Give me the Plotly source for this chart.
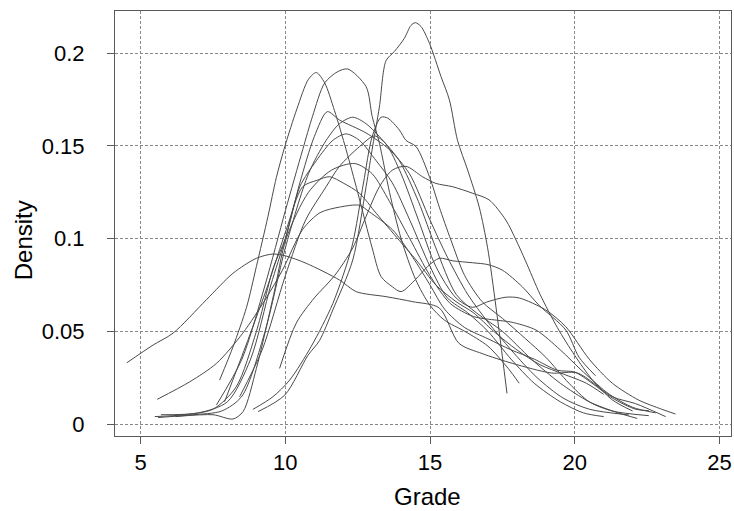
import plotly.graph_objects as go

# Density curves (Grade vs Density)
curve_names = ["L", "K", "D", "E", "G", "I", "A", "B", "J", "H", "F", "C", "I2"]

L_x = [4.52, 5.43, 6.12, 7.27, 8.19, 9.0, 9.57, 10.03, 10.72, 11.87, 12.45, 13.48, 14.4, 15.32, 16.0, 16.8, 17.85, 19.2, 20.1, 21.3, 22.1, 23.14]
L_y = [0.033, 0.0426, 0.049, 0.067, 0.0813, 0.0894, 0.0917, 0.0906, 0.0867, 0.0777, 0.0714, 0.0687, 0.066, 0.0626, 0.0435, 0.038, 0.0327, 0.0275, 0.0275, 0.0147, 0.011, 0.004]

K_x = [5.57, 6.7, 7.62, 8.53, 9.34, 9.9, 10.6, 11.2, 11.87, 12.56, 12.9, 13.71, 14.4, 15.0, 15.5, 16.2, 17.0, 17.8, 18.6, 19.4, 20.0, 20.6, 21.3, 22.1, 22.56]
K_y = [0.0133, 0.0228, 0.0327, 0.049, 0.068, 0.083, 0.105, 0.114, 0.117, 0.118, 0.1145, 0.1047, 0.09, 0.075, 0.062, 0.052, 0.046, 0.04, 0.035, 0.029, 0.028, 0.022, 0.014, 0.008, 0.0072]

D_x = [5.49, 6.5, 7.5, 8.3, 9.0, 9.6, 10.0, 10.5, 11.0, 11.45, 11.87, 12.79, 13.6, 14.29, 15.0, 15.6, 16.3, 17.0, 17.8, 18.7, 19.6, 20.5, 21.87]
D_y = [0.004, 0.005, 0.008, 0.02, 0.05, 0.085, 0.1, 0.13, 0.155, 0.1685, 0.164, 0.157, 0.148, 0.135, 0.11, 0.09, 0.07, 0.055, 0.04, 0.025, 0.014, 0.008, 0.0049]

E_x = [5.6, 6.8, 7.8, 8.5, 9.3, 10.0, 10.8, 11.41, 11.87, 12.33, 12.79, 13.37, 13.94, 14.6, 15.2, 15.9, 16.6, 17.5, 18.5, 19.5, 20.5, 21.5, 22.16]
E_y = [0.0035, 0.005, 0.007, 0.015, 0.05, 0.095, 0.135, 0.153, 0.162, 0.1655, 0.162, 0.153, 0.142, 0.12, 0.095, 0.07, 0.06, 0.05, 0.035, 0.022, 0.012, 0.006, 0.003]

G_x = [5.7, 7.0, 8.0, 8.8, 9.5, 10.0, 10.5, 11.07, 11.64, 12.1, 12.56, 13.14, 13.7, 14.3, 15.0, 15.6, 16.3, 17.0, 17.8, 18.6, 19.5, 20.3, 21.0]
G_y = [0.005, 0.006, 0.012, 0.035, 0.075, 0.1, 0.128, 0.142, 0.153, 0.1565, 0.153, 0.142, 0.13, 0.11, 0.085, 0.068, 0.06, 0.05, 0.035, 0.022, 0.012, 0.006, 0.004]

I_x = [6.2, 7.5, 8.19, 8.54, 9.0, 9.6, 10.03, 10.8, 11.6, 12.4, 13.0, 13.6, 14.3, 15.0, 15.7, 16.5, 17.3, 17.8, 18.66, 19.5, 20.3, 21.2, 22.0, 22.8]
I_y = [0.004, 0.005, 0.0027, 0.0067, 0.03, 0.07, 0.1, 0.125, 0.137, 0.1405, 0.135, 0.12, 0.1, 0.08, 0.065, 0.058, 0.056, 0.055, 0.0507, 0.04, 0.028, 0.016, 0.009, 0.006]

A_x = [7.73, 8.2, 8.66, 9.0, 9.4, 9.69, 9.98, 10.4, 10.8, 11.07, 11.36, 11.7, 12.1, 12.5, 13.0, 13.31, 13.7, 14.0, 14.5, 14.92, 15.32, 15.8, 16.46, 17.0, 17.5, 18.19, 18.77, 19.69, 20.15, 20.72]
A_y = [0.0237, 0.042, 0.063, 0.085, 0.112, 0.133, 0.1496, 0.17, 0.186, 0.1896, 0.184, 0.169, 0.148, 0.125, 0.095, 0.0795, 0.074, 0.0714, 0.078, 0.085, 0.0894, 0.088, 0.087, 0.086, 0.083, 0.074, 0.064, 0.0507, 0.036, 0.026]

B_x = [7.62, 8.5, 9.3, 10.0, 10.6, 10.94, 11.36, 11.8, 12.16, 12.79, 13.0, 13.25, 13.6, 14.0, 14.5, 15.0, 15.5, 16.2, 17.0, 17.7, 18.08]
B_y = [0.0103, 0.035, 0.075, 0.115, 0.148, 0.166, 0.184, 0.19, 0.1915, 0.182, 0.166, 0.1515, 0.125, 0.1, 0.078, 0.064, 0.056, 0.05, 0.042, 0.03, 0.022]

J_x = [7.9, 8.7, 9.4, 10.03, 10.6, 11.1, 11.53, 12.0, 12.56, 13.14, 13.94, 14.52, 15.2, 15.9, 16.5, 17.2, 18.0, 18.8, 19.6, 20.4, 21.0]
J_y = [0.012, 0.045, 0.075, 0.1047, 0.128, 0.1315, 0.1334, 0.13, 0.1245, 0.1137, 0.099, 0.0885, 0.075, 0.066, 0.06, 0.05, 0.04, 0.032, 0.027, 0.022, 0.016]

H_x = [8.42, 9.2, 10.0, 10.7, 11.41, 11.87, 12.56, 13.08, 13.48, 14.0, 14.6, 15.2, 15.9, 16.46, 17.0, 17.62, 18.08, 19.0, 19.69, 20.5, 21.3, 22.2, 23.0, 23.48]
H_y = [0.0147, 0.04, 0.08, 0.11, 0.128, 0.139, 0.1496, 0.1554, 0.151, 0.135, 0.11, 0.085, 0.068, 0.063, 0.066, 0.0684, 0.068, 0.0615, 0.0525, 0.035, 0.022, 0.013, 0.008, 0.0054]

F_x = [8.88, 9.57, 10.15, 10.9, 11.64, 12.3, 12.7, 13.0, 13.31, 13.54, 13.94, 14.17, 14.52, 14.98, 15.32, 15.72, 16.2, 16.8, 17.5, 18.3, 19.0, 19.8, 20.5, 21.3, 22.56]
F_y = [0.0079, 0.0147, 0.0237, 0.042, 0.065, 0.0957, 0.13, 0.155, 0.1655, 0.165, 0.1586, 0.153, 0.1496, 0.1334, 0.117, 0.0993, 0.08, 0.066, 0.057, 0.046, 0.036, 0.022, 0.012, 0.007, 0.0045]

C_x = [9.06, 9.98, 10.78, 11.18, 11.64, 12.33, 12.79, 13.02, 13.25, 13.48, 13.77, 14.11, 14.34, 14.49, 14.69, 14.98, 15.38, 15.67, 15.95, 16.3, 16.7, 16.99, 17.28, 17.66]
C_y = [0.0067, 0.0156, 0.037, 0.045, 0.0615, 0.0885, 0.128, 0.15, 0.171, 0.196, 0.201, 0.208, 0.215, 0.2165, 0.2144, 0.2054, 0.1874, 0.1748, 0.153, 0.137, 0.117, 0.095, 0.063, 0.0165]

I2_x = [9.8, 10.38, 11.0, 11.7, 12.33, 12.79, 13.25, 13.7, 14.17, 14.74, 15.2, 15.78, 16.47, 17.04, 17.62, 17.97, 18.3, 18.8, 19.4, 20.0, 20.6, 21.3, 22.0]
I2_y = [0.030, 0.0545, 0.068, 0.08, 0.095, 0.112, 0.128, 0.137, 0.139, 0.1334, 0.1298, 0.128, 0.1245, 0.1209, 0.110, 0.0993, 0.088, 0.07, 0.052, 0.037, 0.024, 0.013, 0.007]

curves = {
    "L": (L_x, L_y), "K": (K_x, K_y), "D": (D_x, D_y), "E": (E_x, E_y),
    "G": (G_x, G_y), "I": (I_x, I_y), "A": (A_x, A_y), "B": (B_x, B_y),
    "J": (J_x, J_y), "H": (H_x, H_y), "F": (F_x, F_y), "C": (C_x, C_y),
    "I2": (I2_x, I2_y),
}

x_ticks = [5, 10, 15, 20, 25]
y_ticks = [0, 0.05, 0.1, 0.15, 0.2]
y_tick_labels = ["0", "0.05", "0.1", "0.15", "0.2"]
x_title = "Grade"
y_title = "Density"

fig = go.Figure()
for name in curve_names:
    xs, ys = curves[name]
    fig.add_trace(go.Scatter(
        x=xs, y=ys, mode="lines", name=name,
        line=dict(color="#4a4a4a", width=1, shape="spline", smoothing=0.8),
        showlegend=False, hoverinfo="skip",
    ))

font_family = "Liberation Sans, Arial, sans-serif"
axis_common = dict(
    showline=True, linecolor="#5a5a5a", linewidth=1, mirror=True,
    ticks="outside", ticklen=7, tickcolor="#5a5a5a", tickwidth=1,
    showgrid=True, gridcolor="#888888", gridwidth=1, griddash="3px,2px",
    zeroline=False, automargin=False,
    tickfont=dict(family=font_family, size=22, color="#000000"),
)

fig.update_layout(
    width=734, height=511,
    margin=dict(l=115, r=3, t=11, b=75),
    paper_bgcolor="white", plot_bgcolor="white",
    font=dict(family=font_family, color="#000000"),
    xaxis=dict(
        range=[4.114, 25.40], tickmode="array", tickvals=x_ticks,
        ticktext=[str(v) for v in x_ticks],
        ticklabelstandoff=0,
        **axis_common,
    ),
    yaxis=dict(
        range=[-0.00647, 0.2228], tickmode="array", tickvals=y_ticks,
        ticktext=y_tick_labels,
        ticklabelstandoff=18,
        **axis_common,
    ),
    annotations=[
        dict(text=x_title, xref="paper", yref="paper", x=0.5065, y=-0.1435,
             xanchor="center", yanchor="middle", showarrow=False,
             font=dict(family=font_family, size=24, color="#000000")),
        dict(text=y_title, xref="paper", yref="paper", x=-0.149, y=0.461,
             xanchor="center", yanchor="middle", showarrow=False, textangle=-90,
             font=dict(family=font_family, size=24, color="#000000")),
    ],
)

fig.write_html("out.html", config={"displayModeBar": False},
               post_script="document.body.style.margin='0';")
